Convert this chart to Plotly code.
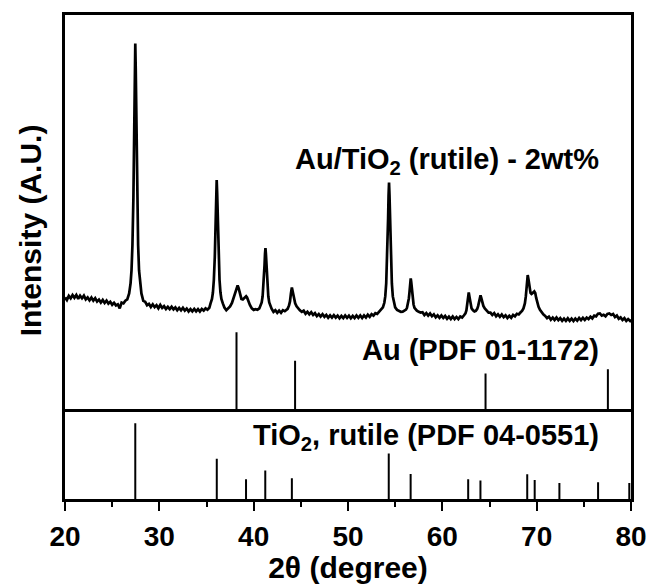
import plotly.graph_objects as go

# Measured XRD pattern of Au/TiO2 (rutile), 2 wt% Au
two_theta = [
    20.0, 20.2, 20.4, 20.6, 20.8, 21.0, 21.2, 21.4, 21.6, 21.8, 22.0, 22.2, 22.4, 22.6, 22.8,
    23.0, 23.2, 23.4, 23.6, 23.8, 24.0, 24.2, 24.4, 24.6, 24.8, 25.0, 25.2, 25.4, 25.6, 25.8,
    26.0, 26.2, 26.4, 26.6, 26.8, 26.95, 27.05, 27.15, 27.25, 27.3, 27.35, 27.4, 27.45, 27.5,
    27.55, 27.6, 27.65, 27.75, 27.85, 27.95, 28.1, 28.3, 28.5, 28.7, 28.9, 29.1, 29.3, 29.5,
    29.7, 29.9, 30.1, 30.3, 30.5, 30.7, 30.9, 31.1, 31.3, 31.5, 31.7, 31.9, 32.1, 32.3, 32.5,
    32.7, 32.9, 33.1, 33.3, 33.5, 33.7, 33.9, 34.1, 34.3, 34.5, 34.7, 34.9, 35.1, 35.3, 35.43,
    35.58, 35.68, 35.78, 35.88, 35.93, 35.98, 36.03, 36.08, 36.13, 36.18, 36.23, 36.28, 36.38,
    36.48, 36.58, 36.73, 36.9, 37.1, 37.3, 37.5, 37.7, 37.9, 38.05, 38.2, 38.3, 38.4, 38.55,
    38.7, 38.85, 39.0, 39.1, 39.2, 39.3, 39.45, 39.6, 39.8, 40.0, 40.2, 40.4, 40.6, 40.75,
    40.85, 40.95, 41.05, 41.1, 41.15, 41.2, 41.25, 41.3, 41.35, 41.4, 41.45, 41.55, 41.65,
    41.75, 41.9, 42.1, 42.3, 42.5, 42.7, 42.9, 43.1, 43.3, 43.5, 43.6, 43.75, 43.85, 43.95,
    44.05, 44.15, 44.25, 44.4, 44.55, 44.7, 44.9, 45.1, 45.3, 45.5, 45.7, 45.9, 46.1, 46.3,
    46.5, 46.7, 46.9, 47.1, 47.3, 47.5, 47.7, 47.9, 48.1, 48.3, 48.5, 48.7, 48.9, 49.1, 49.3,
    49.5, 49.7, 49.9, 50.1, 50.3, 50.5, 50.7, 50.9, 51.1, 51.3, 51.5, 51.7, 51.9, 52.1, 52.3,
    52.5, 52.7, 52.9, 53.1, 53.3, 53.5, 53.7, 53.85, 53.95, 54.05, 54.15, 54.2, 54.25, 54.3,
    54.35, 54.4, 54.45, 54.5, 54.55, 54.65, 54.75, 54.85, 55.0, 55.2, 55.4, 55.6, 55.8, 56.0,
    56.15, 56.25, 56.35, 56.45, 56.5, 56.55, 56.6, 56.65, 56.7, 56.75, 56.8, 56.85, 56.95,
    57.05, 57.15, 57.3, 57.5, 57.7, 57.9, 58.1, 58.3, 58.5, 58.7, 58.9, 59.1, 59.3, 59.5, 59.7,
    59.9, 60.1, 60.3, 60.5, 60.7, 60.9, 61.1, 61.3, 61.5, 61.7, 61.9, 62.1, 62.3, 62.45, 62.55,
    62.65, 62.72, 62.8, 62.88, 62.98, 63.1, 63.25, 63.4, 63.55, 63.7, 63.8, 63.9, 63.98, 64.05,
    64.12, 64.22, 64.35, 64.5, 64.7, 64.9, 65.1, 65.3, 65.5, 65.7, 65.9, 66.1, 66.3, 66.5, 66.7,
    66.9, 67.1, 67.3, 67.5, 67.7, 67.9, 68.1, 68.3, 68.45, 68.6, 68.75, 68.85, 68.95, 69.05,
    69.15, 69.25, 69.35, 69.45, 69.55, 69.65, 69.75, 69.85, 69.95, 70.05, 70.2, 70.35, 70.5,
    70.7, 70.9, 71.1, 71.3, 71.5, 71.7, 71.9, 72.1, 72.3, 72.5, 72.7, 72.9, 73.1, 73.3, 73.5,
    73.7, 73.9, 74.1, 74.3, 74.5, 74.7, 74.9, 75.1, 75.3, 75.5, 75.7, 75.9, 76.1, 76.3, 76.5,
    76.7, 76.9, 77.1, 77.3, 77.5, 77.7, 77.9, 78.1, 78.3, 78.5, 78.7, 78.9, 79.1, 79.3, 79.5,
    79.7, 79.9, 80.0,
]
intensity = [
    1120, 1094, 1135, 1110, 1144, 1116, 1144, 1106, 1137, 1112, 1138, 1100, 1120, 1090, 1118,
    1088, 1112, 1078, 1098, 1068, 1094, 1064, 1088, 1058, 1076, 1046, 1066, 1040, 1051, 1010,
    1068, 1060, 1087, 1100, 1160, 1261, 1390, 1648, 2113, 2475, 2940, 3405, 3663, 3405,
    2940, 2475, 2113, 1648, 1390, 1261, 1160, 1085, 1076, 1042, 1055, 1024, 1051, 1022,
    1042, 1011, 1044, 1014, 1032, 1004, 1026, 1002, 1026, 1000, 1020, 992, 1014, 990, 1016,
    988, 1008, 980, 1003, 980, 1005, 980, 1003, 978, 1004, 988, 1011, 996, 1016, 1060,
    1105, 1169, 1297, 1528, 1707, 1938, 2169, 2297, 2169, 1938, 1707, 1528, 1297,
    1169, 1105, 1060, 1018, 992, 1008, 1030, 1065, 1120, 1175, 1225, 1240, 1215, 1150,
    1105, 1100, 1115, 1128, 1132, 1120, 1080, 1045, 1010, 995, 1002, 996, 1010, 1038,
    1069, 1131, 1243, 1330, 1441, 1553, 1615, 1553, 1441, 1330, 1243, 1131, 1069,
    1038, 1007, 975, 992, 965, 988, 966, 992, 982, 998, 1005, 1040, 1080, 1160,
    1220, 1175, 1110, 1060, 1030, 1010, 990, 975, 987, 956, 976, 950, 972, 944,
    962, 932, 952, 927, 951, 925, 945, 917, 940, 917, 942, 917, 938, 911, 935,
    913, 939, 915, 937, 911, 935, 913, 939, 916, 939, 914, 939, 918, 946, 925,
    952, 937, 962, 954, 978, 994, 1020, 1066, 1130, 1260, 1493, 1674, 1907, 2141,
    2270, 2141, 1907, 1674, 1493, 1260, 1130, 1066, 1020, 995, 982, 976, 978, 987,
    998, 1015, 1049, 1109, 1156, 1216, 1277, 1310, 1277, 1216, 1156, 1109, 1049,
    1015, 998, 987, 975, 968, 972, 943, 963, 938, 960, 932, 950, 920, 940, 916,
    940, 914, 934, 906, 928, 904, 928, 902, 924, 902, 928, 918, 941, 960, 990,
    1050, 1120, 1170, 1125, 1055, 1010, 990, 980, 985, 1005, 1035, 1085, 1125, 1140,
    1118, 1075, 1035, 1010, 985, 968, 968, 943, 962, 931, 951, 926, 949, 922, 941,
    913, 936, 916, 944, 930, 956, 949, 971, 985, 1010, 1060, 1130, 1250, 1344,
    1290, 1210, 1165, 1155, 1160, 1170, 1180, 1165, 1115, 1065, 1025, 995, 972,
    950, 935, 912, 927, 896, 918, 894, 918, 892, 912, 885, 908, 885, 910, 885,
    908, 883, 908, 887, 914, 892, 916, 894, 918, 903, 927, 910, 937, 930, 956,
    959, 938, 946, 930, 955, 959, 944, 953, 923, 938, 906, 920, 894, 912, 884,
    903, 885, 898,
]

# Reference lines: Au (PDF 01-1172)
au_pos = [38.18, 44.39, 64.58, 77.55]
au_rel = [100, 63, 46.5, 52]

# Reference lines: TiO2 rutile (PDF 04-0551)
rutile_pos = [27.45, 36.09, 39.19, 41.23, 44.05, 54.32, 56.64, 62.74, 64.04,
              69.00, 69.79, 72.41, 76.51, 79.82]
rutile_rel = [100, 53, 26, 37.5, 27.5, 60, 33, 26, 24.5, 32.5, 25, 21, 22, 21]

x_ticks = [20, 30, 40, 50, 60, 70, 80]
x_minor_ticks = [25, 35, 45, 55, 65, 75]

label_sample = "Au/TiO<sub>2</sub> (rutile) - 2wt%"
label_au = "Au (PDF 01-1172)"
label_rutile = "TiO<sub>2</sub>, rutile (PDF 04-0551)"
label_y = "Intensity (A.U.)"
label_x = "2θ (degree)"


def sticks(pos, rel):
    xs, ys = [], []
    for p, r in zip(pos, rel):
        xs += [p, p, None]
        ys += [0, r, None]
    return xs, ys


FONT = "Liberation Sans, Arial, sans-serif"
LW = 2.5
split = 0.1856  # boundary between the pattern panel and the rutile panel

fig = go.Figure()
fig.add_trace(go.Scatter(x=two_theta, y=intensity, mode="lines",
                         line=dict(color="black", width=2.7),
                         xaxis="x2", yaxis="y", showlegend=False))
ax, ay = sticks(au_pos, au_rel)
fig.add_trace(go.Scatter(x=ax, y=ay, mode="lines", line=dict(color="black", width=2),
                         xaxis="x2", yaxis="y2", showlegend=False))
rx, ry = sticks(rutile_pos, rutile_rel)
fig.add_trace(go.Scatter(x=rx, y=ry, mode="lines", line=dict(color="black", width=2),
                         xaxis="x", yaxis="y3", showlegend=False))

base = dict(showgrid=False, zeroline=False, automargin=False)

fig.update_layout(
    width=649, height=584,
    margin=dict(l=65, r=18, t=15, b=85),
    paper_bgcolor="white", plot_bgcolor="white",
    font=dict(family=FONT, color="black", size=28, weight="bold"),
    # bottom axis with labels and ticks
    xaxis=dict(domain=[0, 1], range=[20, 80], anchor="y3", **base,
               showline=True, linecolor="black", linewidth=LW, mirror=False,
               tickmode="array", tickvals=x_ticks, ticks="outside", ticklen=9,
               tickwidth=2.2, tickcolor="black", ticklabelstandoff=2,
               tickfont=dict(family=FONT, size=28, weight="bold"),
               minor=dict(tickmode="array", tickvals=x_minor_ticks,
                          ticks="outside", ticklen=5, tickwidth=2.2, tickcolor="black"),
               title=dict(text=label_x, standoff=0,
                          font=dict(family=FONT, size=30, weight="bold"))),
    # upper panel: its x lines give the separator and the top edge
    xaxis2=dict(domain=[0, 1], range=[20, 80], anchor="y", matches="x", **base,
                showline=True, linecolor="black", linewidth=LW, mirror=True,
                showticklabels=False, ticks=""),
    yaxis=dict(domain=[split, 1], range=[0, 3950], anchor="x2", **base,
               showline=True, linecolor="black", linewidth=LW, mirror=True,
               showticklabels=False, ticks=""),
    yaxis2=dict(overlaying="y", range=[0, 513], anchor="x2", visible=False),
    yaxis3=dict(domain=[0, split], range=[0, 118.4], anchor="x", **base,
                showline=True, linecolor="black", linewidth=LW, mirror=True,
                showticklabels=False, ticks=""),
)

# vertical axis title spanning both panels
fig.add_annotation(text=label_y, xref="paper", yref="paper", x=-0.062, y=0.555,
                   textangle=-90, xanchor="center", yanchor="middle", showarrow=False,
                   font=dict(family=FONT, size=30, weight="bold", color="black"))

for text, ypos in [(label_sample, 0.699), (label_au, 0.307), (label_rutile, 0.128)]:
    fig.add_annotation(text=text, xref="x", yref="paper", x=76.8, y=ypos,
                       xanchor="right", yanchor="middle", showarrow=False,
                       font=dict(family=FONT, size=29, weight="bold", color="black"))

fig.write_html("out.html")
